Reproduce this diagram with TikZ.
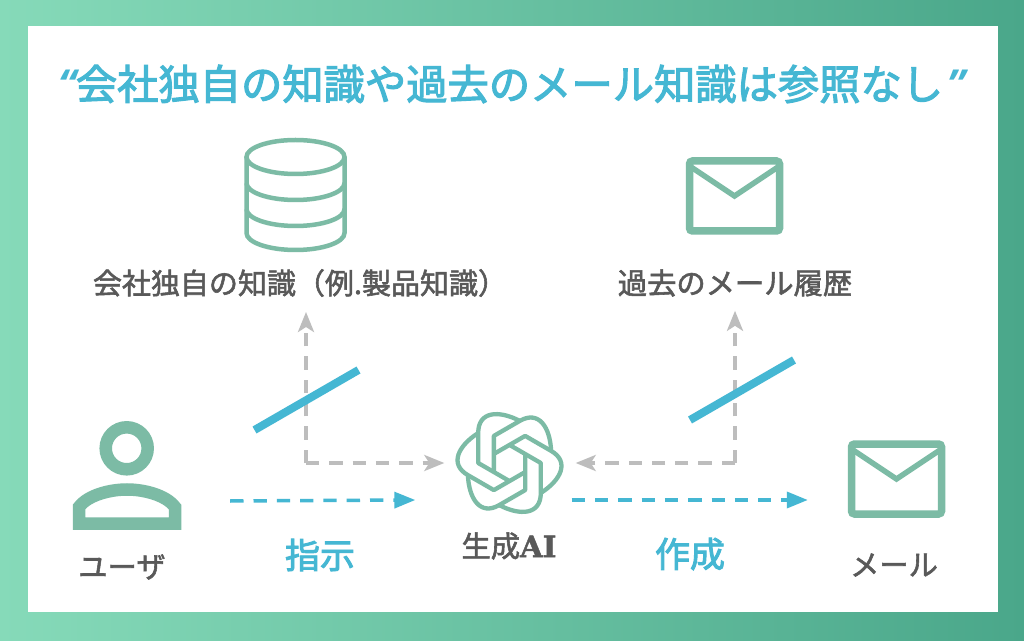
\documentclass[tikz,border=0pt]{standalone}
\usepackage{fontspec}
\setmainfont{Noto Sans CJK JP}
\newfontfamily\labelfont[FakeBold=1.9]{Noto Sans CJK JP}
\newfontfamily\headfont[FakeBold=2.6]{Noto Sans CJK JP}
\newfontfamily\quotefont{Open Sans}
\newfontfamily\slabfont[FakeBold=1.5]{DejaVu Serif}
\usetikzlibrary{calc, positioning, arrows.meta}

\definecolor{bgleft}{HTML}{86DAB9}
\definecolor{bgright}{HTML}{4AA78A}
\definecolor{iconcol}{HTML}{7CBBA5}
\definecolor{bluecol}{HTML}{45B7D3}
\definecolor{graycol}{HTML}{BDBDBD}
\definecolor{textcol}{HTML}{595959}

\tikzset{
	iconbox/.style={inner sep=0pt, minimum width=#1, minimum height=#1},
	caption/.style={text=textcol, inner sep=0pt, font=\labelfont\fontsize{29.3}{34}\selectfont},
	bluetext/.style={text=bluecol, inner sep=0pt, font=\headfont\fontsize{35}{40}\selectfont},
	grayarrow/.style={draw=graycol, line width=3.5pt, dash pattern=on 13.3pt off 10pt, -{Stealth[length=20pt, width=16pt, inset=5pt]}},
	bluearrow/.style={draw=bluecol, line width=3.5pt, dash pattern=on 13.3pt off 10pt, -{Triangle[length=21pt, width=16pt]}},
	slash/.style={draw=bluecol, line width=8pt},
	mailicon/.pic={
		\draw[iconcol, line width=7.5pt, rounded corners=3pt] (-45,-35) rectangle (45,35);
		\draw[iconcol, line width=5.5pt, line join=miter] (-45,30) -- (0,0) -- (45,30);
	},
}

\begin{document}
\begin{tikzpicture}[x=1pt, y=1pt]
	\useasboundingbox (0,0) rectangle (1024,640);
	\shade[left color=bgleft, right color=bgright] (0,0) rectangle (1024,640);
	\fill[white] (28,28) rectangle (998,614);

	\node[text=bluecol, inner sep=0pt, font=\headfont\fontsize{41.3}{48}\selectfont] (title) at (512,556)
		{{\quotefont\bfseries\itshape“}\hspace{-1pt}会社独自の知識や過去のメール知識は参照なし\hspace{4pt}{\quotefont\bfseries\itshape”}};

	% knowledge base
	\node[iconbox=105pt] (kbicon) at (295.5,445) {};
	\draw[iconcol, line width=4.5pt] (295.5,483) ellipse (49 and 17);
	\draw[iconcol, line width=4.5pt] (246.5,483) -- (246.5,407) arc[start angle=180, end angle=360, x radius=49, y radius=17] -- (344.5,483);
	\draw[iconcol, line width=4.5pt] (246.5,457) arc[start angle=180, end angle=360, x radius=49, y radius=17];
	\draw[iconcol, line width=4.5pt] (246.5,431) arc[start angle=180, end angle=360, x radius=49, y radius=17];
	\node[caption, font=\labelfont\fontsize{29}{34}\selectfont] (kb) at (300,357) {会社独自の知識（例.製品知識）};

	% past mails
	\node[iconbox=97pt] (pasticon) at (734.5,444) {};
	\pic at (pasticon) {mailicon};
	\node[caption] (past) at (735,357) {過去のメール履歴};

	% user
	\node[iconbox=110pt] (usericon) at (127,164) {};
	\draw[iconcol, line width=12.5pt] (126.7,191.7) circle (21);
	\draw[iconcol, line width=12.5pt, line join=miter] (79,116.3) -- (79,133) .. controls (88,145) and (110,150.5) .. (127,150.5) .. controls (144,150.5) and (166,145) .. (175,133) -- (175,116.3) -- cycle;
	\node[caption] (user) at (122,73) {ユーザ};

	% ai
	\node[iconbox=104pt] (aiicon) at (509.5,177) {};
	\begin{scope}[shift={(aiicon.center)}]
		\foreach \a in {0,60,...,300} {
			\draw[iconcol, line width=4.3pt, line join=round, rotate=\a] (-1,-17.5) -- (-31.3,0) -- (-31.3,30) .. controls (-31.3,52) and (-10.6,53) .. (10.3,42.1);
		}
	\end{scope}
	\node[caption] (ai) at (509,94) {生成{\slabfont\bfseries AI}};

	% mail
	\node[iconbox=97pt] (mailicon) at (896.5,161) {};
	\pic at (mailicon) {mailicon};
	\node[caption] (mail) at (894,75) {メール};

	\node[bluetext] (ask) at (320,85) {指示};
	\node[bluetext] (make) at (690,86) {作成};

	\coordinate (kbbend) at (306,177);
	\coordinate (pastbend) at (735,177);
	\draw[grayarrow] (kbbend) -- ([xshift=-13pt]aiicon.west |- kbbend);
	\draw[grayarrow] (kbbend) -- (kbbend |- 0,328);
	\draw[grayarrow] (pastbend) -- ([xshift=14pt]aiicon.east |- pastbend);
	\draw[grayarrow] (pastbend) -- ([yshift=-14pt]past.south -| pastbend);

	\draw[bluearrow] ([xshift=48pt, yshift=-25pt]usericon.east) -- ([xshift=-42pt, yshift=-37pt]aiicon.west);
	\draw[bluearrow] ([xshift=10pt, yshift=-37pt]aiicon.east) -- ([xshift=-40pt, yshift=-21pt]mailicon.west);

	\coordinate (kbslash) at (306.5,240);
	\coordinate (pastslash) at (742,250);
	\draw[slash] ($(kbslash)+(-52,-30)$) -- ($(kbslash)+(52,30)$);
	\draw[slash] ($(pastslash)+(-52,-30)$) -- ($(pastslash)+(52,30)$);
\end{tikzpicture}
\end{document}
